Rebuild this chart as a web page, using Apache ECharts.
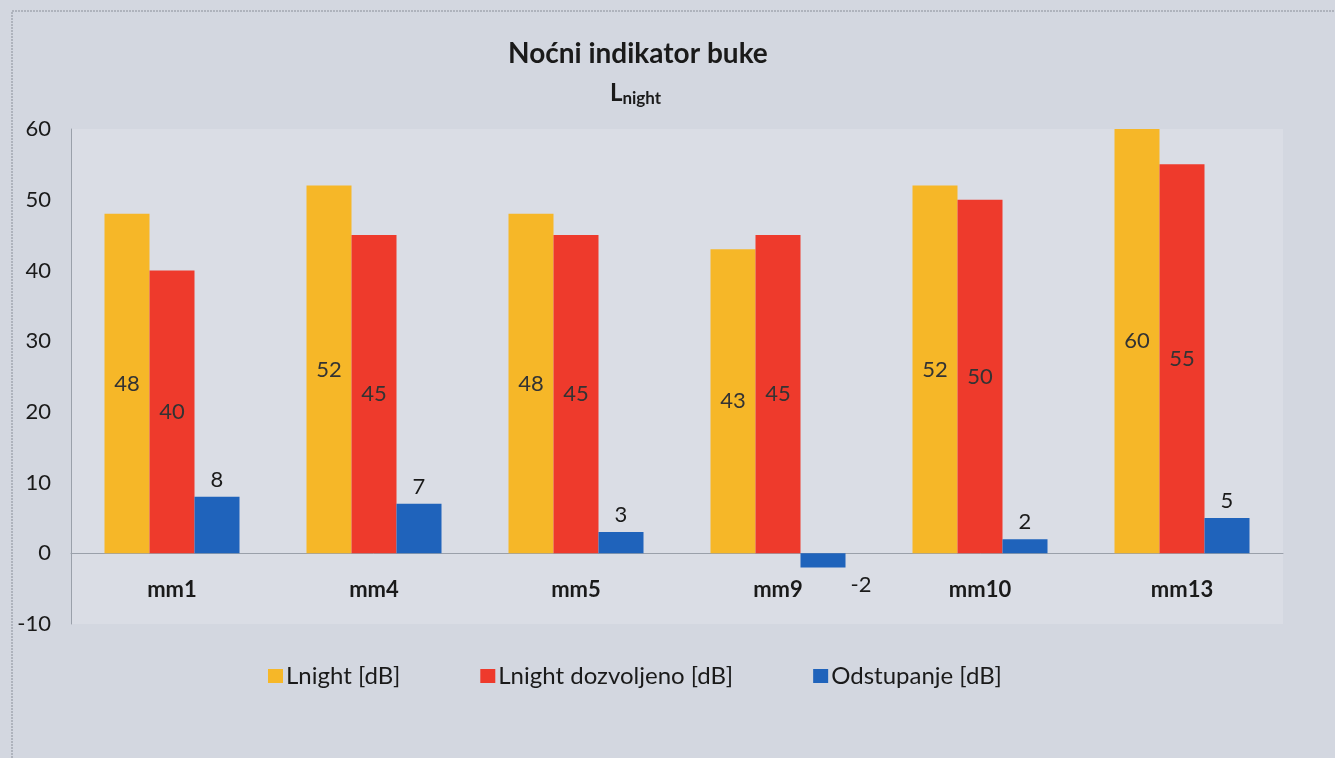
<!DOCTYPE html>
<html>
<head>
<meta charset="utf-8">
<script src="https://cdn.jsdelivr.net/npm/echarts@6/dist/echarts.min.js"></script>
<style>
html,body{margin:0;padding:0;background:#d3d7e0;}
#c{width:1335px;height:758px;}
</style>
</head>
<body>
<div id="c"></div>
<script>
const categories = ['mm1', 'mm4', 'mm5', 'mm9', 'mm10', 'mm13'];
const lnight = [48, 52, 48, 43, 52, 60];
const lnightAllowed = [40, 45, 45, 45, 50, 55];
const deviation = [8, 7, 3, -2, 2, 5];
const seriesNames = ['Lnight [dB]', 'Lnight dozvoljeno [dB]', 'Odstupanje [dB]'];
const yTicks = { min: -10, max: 60, interval: 10 };

const FONT = 'Lato, "Noto Sans", sans-serif';
const chart = echarts.init(document.getElementById('c'));

const labelInside = {
  show: true, position: 'inside', color: '#333', fontSize: 22, fontFamily: FONT
};

chart.setOption({
  backgroundColor: '#d3d7e0',
  animation: false,
  title: [
    {
      text: 'Noćni indikator buke',
      left: 508,
      top: 40,
      padding: 0,
      textStyle: { fontFamily: FONT, fontSize: 28, fontWeight: 'bold', color: '#1a1a1a' }
    },
    {
      text: '{L|L}{s|night}',
      left: 610,
      top: 80,
      padding: 0,
      textStyle: {
        rich: {
          L: { fontFamily: FONT, fontSize: 24, fontWeight: 'bold', color: '#1a1a1a', lineHeight: 26 },
          s: { fontFamily: FONT, fontSize: 17, fontWeight: 'bold', color: '#1a1a1a', padding: [12, 0, 0, 0], lineHeight: 26 }
        }
      }
    }
  ],
  graphic: [{
    type: 'rect',
    shape: { x: 12, y: 11, width: 1340, height: 760 },
    style: { fill: null, stroke: '#8a8f99', lineWidth: 1, lineDash: [2, 1] },
    silent: true, z: -1
  }],
  legend: {
    data: seriesNames,
    top: 664,
    left: 268,
    padding: 0,
    itemWidth: 15,
    itemHeight: 14,
    itemGap: 80,
    icon: 'rect',
    textStyle: { fontFamily: FONT, fontSize: 24, color: '#1a1a1a', padding: [0, 0, 0, -2] }
  },
  grid: {
    left: 71, right: 52, top: 129, bottom: 134,
    show: true, backgroundColor: '#dadde5', borderWidth: 0
  },
  xAxis: {
    type: 'category',
    data: categories,
    axisLine: { onZero: true, lineStyle: { color: '#9aa0aa', width: 1 } },
    axisTick: { show: false },
    axisLabel: { margin: -45, fontFamily: FONT, fontSize: 22, fontWeight: 'bold', color: '#1a1a1a' }
  },
  yAxis: {
    type: 'value',
    min: yTicks.min, max: yTicks.max, interval: yTicks.interval,
    axisLine: { show: true, lineStyle: { color: '#9aa0aa', width: 1 } },
    axisTick: { show: false },
    splitLine: { show: false },
    axisLabel: { margin: 20, fontFamily: FONT, fontSize: 22, color: '#1a1a1a' }
  },
  series: [
    {
      name: seriesNames[0], type: 'bar', data: lnight, barWidth: 45, barGap: '0%',
      itemStyle: { color: '#f6b728' }, label: labelInside
    },
    {
      name: seriesNames[1], type: 'bar', data: lnightAllowed, barWidth: 45, barGap: '0%',
      itemStyle: { color: '#ee3a2c' }, label: labelInside
    },
    {
      name: seriesNames[2], type: 'bar', barWidth: 45, barGap: '0%',
      data: deviation.map(v => v < 0
        ? { value: v, label: { position: 'bottom', offset: [38, 0] } }
        : { value: v }),
      itemStyle: { color: '#1f63bb' },
      label: { show: true, position: 'top', distance: 6, color: '#1a1a1a', fontSize: 22, fontFamily: FONT }
    }
  ]
});
</script>
</body>
</html>
